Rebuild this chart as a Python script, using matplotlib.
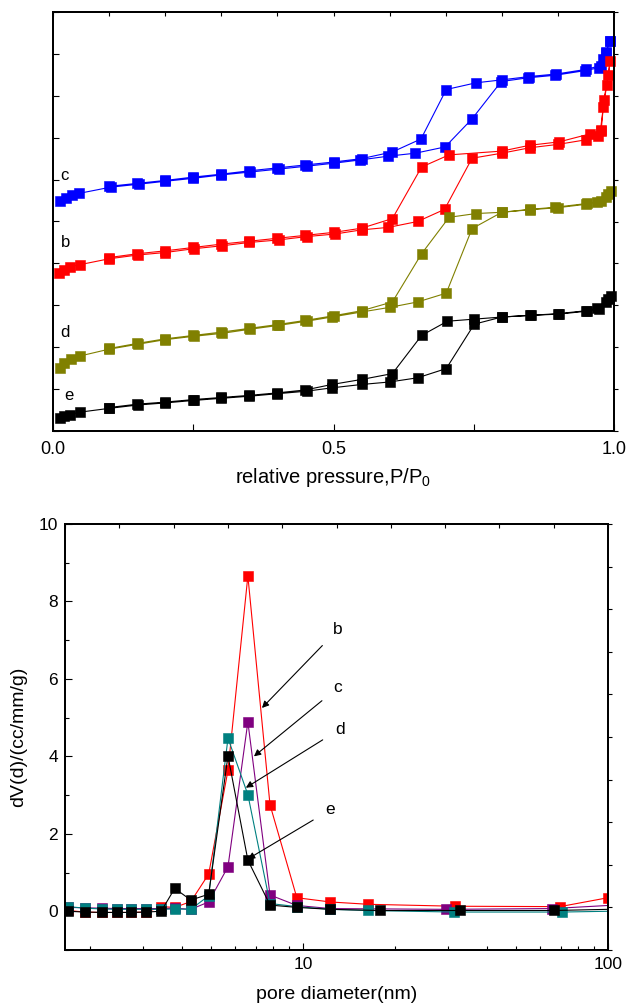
import numpy as np
import matplotlib
matplotlib.use("Agg")
import matplotlib.pyplot as plt
from matplotlib.ticker import MultipleLocator, FixedLocator, NullFormatter, FormatStrFormatter

plt.rcParams['font.family'] = ['Liberation Sans', 'DejaVu Sans']
plt.rcParams['mathtext.fontset'] = 'custom'
plt.rcParams['mathtext.rm'] = 'Liberation Sans'

# ---- isotherms (relative pressure, arbitrary offset volume) ----
c_ads_x = [0.012, 0.023, 0.034, 0.046, 0.103, 0.153, 0.2, 0.25, 0.299, 0.351, 0.402, 0.452, 0.5,
           0.548, 0.598, 0.646, 0.699, 0.747, 0.799, 0.847, 0.895, 0.948, 0.973, 0.98, 0.985, 0.993]
c_ads_y = [5.50, 5.55, 5.63, 5.67, 5.82, 5.89, 5.96, 6.03, 6.11, 6.18, 6.25, 6.32, 6.39,
           6.47, 6.56, 6.63, 6.78, 7.45, 8.34, 8.43, 8.49, 8.60, 8.67, 8.88, 9.04, 9.30]
c_des_x = [0.993, 0.985, 0.976, 0.95, 0.897, 0.849, 0.80, 0.754, 0.701, 0.656, 0.605, 0.55,
           0.5, 0.45, 0.4, 0.35, 0.3, 0.25, 0.2, 0.15, 0.1]
c_des_y = [9.30, 9.02, 8.72, 8.63, 8.52, 8.46, 8.38, 8.31, 8.15, 6.97, 6.66, 6.50,
           6.42, 6.35, 6.28, 6.21, 6.13, 6.06, 5.98, 5.91, 5.84]

b_ads_x = [0.011, 0.02, 0.03, 0.048, 0.1, 0.151, 0.2, 0.251, 0.301, 0.35, 0.402, 0.452, 0.502, 0.55,
           0.598, 0.65, 0.698, 0.747, 0.8, 0.85, 0.9, 0.95, 0.971, 0.976, 0.981, 0.987, 0.993]
b_ads_y = [3.77, 3.85, 3.92, 3.97, 4.11, 4.20, 4.26, 4.35, 4.42, 4.50, 4.56, 4.64, 4.70, 4.80,
           4.86, 5.00, 5.29, 6.51, 6.63, 6.76, 6.84, 6.95, 7.05, 7.19, 7.74, 8.25, 8.82]
b_des_x = [0.99, 0.982, 0.977, 0.957, 0.902, 0.85, 0.8, 0.706, 0.657, 0.605, 0.55, 0.5, 0.45,
           0.4, 0.35, 0.3, 0.25, 0.2, 0.15, 0.1]
b_des_y = [8.50, 7.90, 7.15, 7.09, 6.90, 6.82, 6.68, 6.59, 6.30, 5.07, 4.84, 4.74, 4.67,
           4.60, 4.53, 4.46, 4.38, 4.30, 4.23, 4.14]

d_ads_x = [0.012, 0.02, 0.032, 0.048, 0.099, 0.151, 0.2, 0.251, 0.301, 0.352, 0.402, 0.452, 0.497,
           0.55, 0.6, 0.65, 0.701, 0.747, 0.8, 0.85, 0.895, 0.952, 0.977, 0.986, 0.995]
d_ads_y = [1.51, 1.63, 1.73, 1.79, 1.95, 2.07, 2.18, 2.26, 2.33, 2.43, 2.52, 2.62, 2.72,
           2.84, 2.95, 3.08, 3.29, 4.83, 5.22, 5.29, 5.34, 5.43, 5.48, 5.58, 5.72]
d_des_x = [0.99, 0.97, 0.95, 0.9, 0.85, 0.8, 0.754, 0.706, 0.657, 0.605, 0.55, 0.5, 0.45,
           0.4, 0.35, 0.3, 0.25, 0.2, 0.15, 0.1]
d_des_y = [5.65, 5.47, 5.41, 5.33, 5.28, 5.22, 5.19, 5.10, 4.23, 3.08, 2.87, 2.75, 2.64,
           2.54, 2.45, 2.36, 2.28, 2.20, 2.09, 1.97]

e_ads_x = [0.012, 0.02, 0.03, 0.048, 0.1, 0.151, 0.2, 0.251, 0.3, 0.35, 0.4, 0.452, 0.497,
           0.55, 0.6, 0.65, 0.701, 0.751, 0.8, 0.852, 0.902, 0.952, 0.973, 0.986, 0.995]
e_ads_y = [0.31, 0.35, 0.39, 0.45, 0.54, 0.62, 0.67, 0.73, 0.78, 0.83, 0.89, 0.95, 1.03,
           1.11, 1.17, 1.27, 1.49, 2.55, 2.72, 2.76, 2.79, 2.86, 2.91, 3.08, 3.22]
e_des_x = [0.99, 0.97, 0.95, 0.9, 0.85, 0.8, 0.751, 0.703, 0.657, 0.605, 0.55, 0.497, 0.45,
           0.4, 0.35, 0.3, 0.25, 0.2, 0.15, 0.1]
e_des_y = [3.15, 2.93, 2.87, 2.80, 2.76, 2.72, 2.67, 2.62, 2.28, 1.37, 1.23, 1.11, 0.98,
           0.91, 0.85, 0.80, 0.75, 0.69, 0.64, 0.56]

iso_labels = ['c', 'b', 'd', 'e']
iso_label_xy = [(0.02, 5.91), (0.023, 4.33), (0.021, 2.16), (0.028, 0.67)]

# ---- pore size distributions ----
b_d = [1.70, 1.93, 2.19, 2.45, 2.73, 3.07, 3.43, 3.80, 4.29, 4.91, 5.68, 6.60, 7.80, 9.55, 12.3, 16.4, 31.5, 69.6, 100]
b_v = [0.02, -0.02, -0.03, -0.03, -0.03, -0.02, 0.12, 0.10, 0.25, 0.96, 3.64, 8.66, 2.75, 0.35, 0.24, 0.18, 0.13, 0.12, 0.35]
c_d = [1.70, 1.93, 2.19, 2.45, 2.73, 3.07, 3.43, 3.80, 4.29, 4.91, 5.68, 6.60, 7.80, 9.55, 12.3, 29.4, 65.5, 100]
c_v = [0.10, 0.09, 0.08, 0.07, 0.07, 0.07, 0.07, 0.08, 0.05, 0.24, 1.15, 4.89, 0.42, 0.15, 0.07, 0.05, 0.07, 0.15]
d_d = [1.70, 1.93, 2.19, 2.45, 2.73, 3.07, 3.43, 3.80, 4.29, 4.91, 5.68, 6.60, 7.80, 9.55, 12.3, 16.4, 31.3, 70.6, 100]
d_v = [0.12, 0.08, 0.06, 0.05, 0.05, 0.05, 0.05, 0.06, 0.05, 0.40, 4.47, 3.01, 0.20, 0.12, 0.05, 0.02, -0.02, -0.02, 0.0]
e_d = [1.70, 1.93, 2.19, 2.45, 2.73, 3.07, 3.43, 3.80, 4.29, 4.91, 5.68, 6.60, 7.80, 9.55, 12.3, 17.9, 32.7, 66.5, 100]
e_v = [0.00, -0.02, -0.03, -0.03, -0.03, -0.02, 0.0, 0.59, 0.29, 0.44, 4.01, 1.32, 0.16, 0.10, 0.05, 0.02, 0.02, 0.02, 0.05]

# annotation: label, text position, arrow head
psd_labels = ['b', 'c', 'd', 'e']
psd_text_xy = [(13.0, 7.27), (13.0, 5.77), (13.2, 4.70), (12.3, 2.62)]
psd_head_xy = [(7.34, 5.25), (6.91, 4.0), (6.50, 3.19), (6.6, 1.35)]

ms = 6.8

fig = plt.figure(figsize=(6.28, 10.06), dpi=100)

# ================= top panel =================
ax1 = fig.add_axes([53/628, 1-431/1006, (614-53)/628, (431-12)/1006])
iso = [(c_ads_x, c_ads_y, c_des_x, c_des_y, '#0000FF'),
       (b_ads_x, b_ads_y, b_des_x, b_des_y, '#FF0000'),
       (d_ads_x, d_ads_y, d_des_x, d_des_y, '#808000'),
       (e_ads_x, e_ads_y, e_des_x, e_des_y, '#000000')]
for ax_, ay_, dx_, dy_, col in iso:
    xx = list(ax_) + list(dx_)
    yy = list(ay_) + list(dy_)
    ax1.plot(xx, yy, '-s', color=col, lw=0.8, ms=ms, mec=col, mew=0.4, clip_on=False)
for lab, (lx, ly) in zip(iso_labels, iso_label_xy):
    ax1.text(lx, ly, lab, fontsize=12, ha='center', va='bottom')

ax1.set_xlim(0, 1)
ax1.set_ylim(0, 10)
ax1.xaxis.set_major_locator(MultipleLocator(0.5))
ax1.xaxis.set_minor_locator(MultipleLocator(0.25))
ax1.xaxis.set_major_formatter(FormatStrFormatter('%.1f'))
ax1.yaxis.set_major_locator(MultipleLocator(1))
ax1.yaxis.set_major_formatter(NullFormatter())
ax1.tick_params(axis='x', which='both', direction='in', length=5, width=0.8, labelsize=13, top=False, pad=7)
ax1.tick_params(axis='y', direction='in', length=4, width=0.8, left=True, right=False)
ax1.set_xlabel('relative pressure,P/P$_\\mathregular{0}$', fontsize=14.5, labelpad=6)
ax1t = ax1.twiny()
ax1t.set_xlim(0, 1)
ax1t.xaxis.set_major_locator(MultipleLocator(0.1))
ax1t.xaxis.set_major_formatter(NullFormatter())
ax1t.tick_params(axis='x', direction='in', length=3, width=0.8)
ax1r = ax1.twinx()
ax1r.set_ylim(0, 1)
ax1r.yaxis.set_major_locator(MultipleLocator(0.1))
ax1r.yaxis.set_major_formatter(NullFormatter())
ax1r.tick_params(axis='y', direction='out', length=3, width=0.8)
for a in (ax1, ax1t, ax1r):
    for s in a.spines.values():
        s.set_linewidth(1.2)

# ================= bottom panel =================
ax2 = fig.add_axes([65/628, 1-950/1006, (608-65)/628, (950-524)/1006])
psd = [(b_d, b_v, '#FF0000', None),
       (c_d, c_v, '#800080', slice(0, -1)),
       (d_d, d_v, '#008080', slice(0, -1)),
       (e_d, e_v, '#000000', slice(0, -1))]
for dd, vv, col, me in psd:
    ax2.plot(dd, vv, '-s', color=col, lw=0.8, ms=ms, mec=col, mew=0.4, markevery=me)
for lab, txy, hxy in zip(psd_labels, psd_text_xy, psd_head_xy):
    ax2.annotate(lab, xy=hxy, xytext=txy, fontsize=12.5, ha='center', va='center',
                 arrowprops=dict(arrowstyle='-|>', color='black', lw=0.8,
                                 shrinkA=8, shrinkB=0, mutation_scale=10))
ax2.set_xscale('log')
ax2.set_xlim(1.66, 100)
ax2.set_ylim(-1, 10)
ax2.yaxis.set_major_locator(MultipleLocator(2))
ax2.yaxis.set_minor_locator(MultipleLocator(1))
ax2.xaxis.set_major_locator(FixedLocator([10, 100]))
ax2.xaxis.set_major_formatter(FormatStrFormatter('%d'))
ax2.xaxis.set_minor_locator(FixedLocator([2, 3, 4, 5, 6, 7, 8, 9, 20, 30, 40, 50, 60, 70, 80, 90]))
ax2.xaxis.set_minor_formatter(NullFormatter())
ax2.tick_params(which='major', direction='in', length=5, width=0.8, labelsize=12.5, top=False, right=False, pad=5)
ax2.tick_params(which='minor', direction='in', length=3, width=0.8, top=False, right=False)
ax2.set_xlabel('pore diameter(nm)', fontsize=14, labelpad=10)
ax2.set_ylabel('dV(d)/(cc/mm/g)', fontsize=14, labelpad=8)
ax2t = ax2.twiny()
ax2t.set_xlim(0, 1)
ax2t.xaxis.set_major_locator(MultipleLocator(0.1))
ax2t.xaxis.set_major_formatter(NullFormatter())
ax2t.tick_params(axis='x', direction='in', length=3, width=0.8)
ax2r = ax2.twinx()
ax2r.set_ylim(0, 1)
ax2r.yaxis.set_major_locator(MultipleLocator(0.1))
ax2r.yaxis.set_major_formatter(NullFormatter())
ax2r.tick_params(axis='y', direction='out', length=3, width=0.8)
for a in (ax2, ax2t, ax2r):
    for s in a.spines.values():
        s.set_linewidth(1.2)

fig.savefig('out.png', dpi=100)
